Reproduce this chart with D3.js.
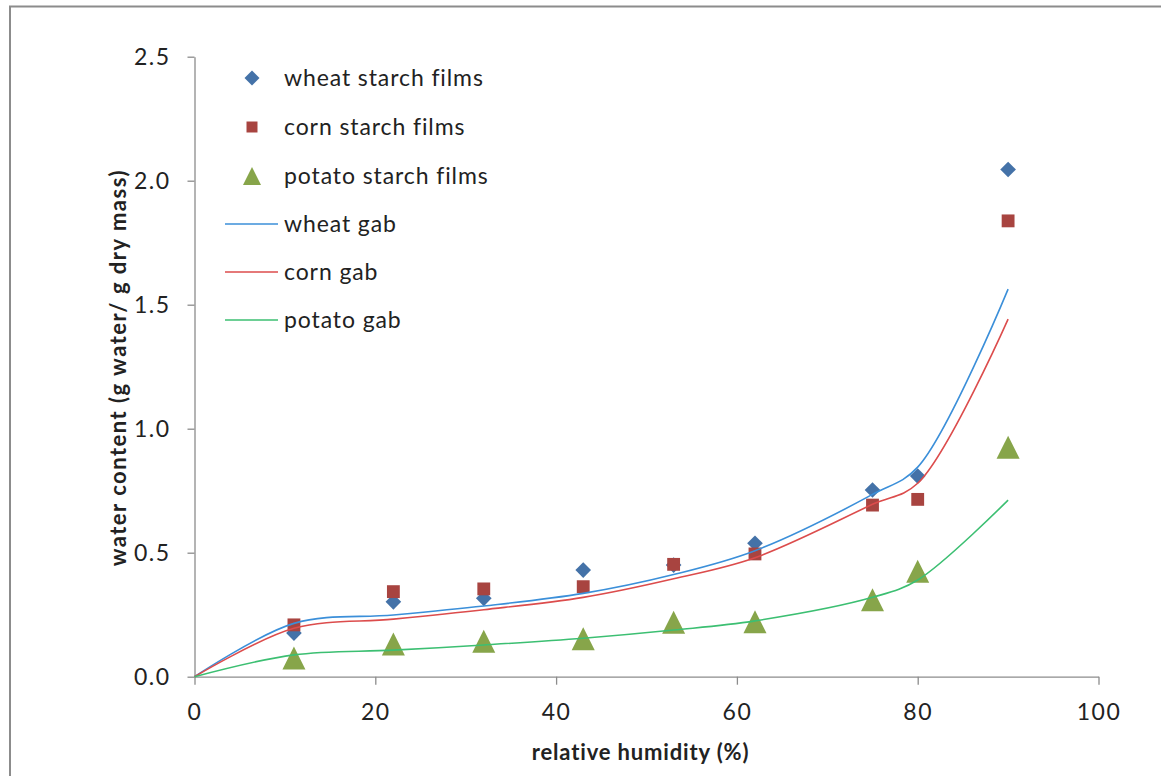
<!DOCTYPE html>
<html>
<head>
<meta charset="utf-8">
<script src="https://cdn.jsdelivr.net/npm/d3@7"></script>
<style>
  body { margin: 0; background: #fff; }
  svg text { font-family: Lato, "Open Sans", sans-serif; fill: #222; }
</style>
</head>
<body>
<div id="chart"></div>
<script>
// measured points (relative humidity %)
var rh = [11, 22, 32, 43, 53, 62, 75, 80, 90];
var wheatFilms = [0.176, 0.302, 0.316, 0.43, 0.45, 0.538, 0.753, 0.809, 2.045];
var cornFilms = [0.209, 0.343, 0.354, 0.363, 0.453, 0.495, 0.692, 0.715, 1.838];
var potatoFilms = [0.075, 0.132, 0.143, 0.153, 0.22, 0.222, 0.31, 0.425, 0.925];

// GAB model curves
var gabRh = [0, 11, 22, 32, 43, 53, 62, 75, 80, 90];
var wheatGab = [0, 0.215, 0.249, 0.285, 0.336, 0.412, 0.508, 0.735, 0.845, 1.563];
var cornGab = [0, 0.195, 0.232, 0.27, 0.32, 0.395, 0.48, 0.695, 0.78, 1.442];
var potatoGab = [0, 0.088, 0.107, 0.128, 0.155, 0.188, 0.225, 0.32, 0.39, 0.712];

var xTicks = [0, 20, 40, 60, 80, 100];
var yTicks = [0, 0.5, 1.0, 1.5, 2.0, 2.5];

var width = 1161, height = 776;
var plot = {left: 194.5, right: 1098.5, top: 56.7, bottom: 676.7};

var svg = d3.select("#chart").append("svg")
	.attr("width", width)
	.attr("height", height);

// outer frame
svg.append("rect")
	.attr("x", 10).attr("y", 6.5)
	.attr("width", 1170).attr("height", 800)
	.attr("fill", "none")
	.attr("stroke", "#8c8c8c")
	.attr("stroke-width", 2);

var x = d3.scaleLinear().domain([0, 100]).range([plot.left, plot.right]);
var y = d3.scaleLinear().domain([0, 2.5]).range([plot.bottom, plot.top]);

var xAxis = svg.append("g")
	.attr("transform", "translate(0," + plot.bottom + ")")
	.call(d3.axisBottom(x).tickValues(xTicks).tickSize(8).tickPadding(19).tickSizeOuter(0));
var yAxis = svg.append("g")
	.attr("transform", "translate(" + plot.left + ",0)")
	.call(d3.axisLeft(y).tickValues(yTicks).tickSize(7).tickPadding(17).tickFormat(d3.format(".1f")).tickSizeOuter(0));

[xAxis, yAxis].forEach(a => {
	a.selectAll("path, line").attr("stroke", "#8c8c8c").attr("stroke-width", 1.3);
	a.selectAll("text")
		.style("font-size", "23px")
		.style("letter-spacing", "1.5px")
		.attr("fill", "#222");
});

svg.append("text")
	.attr("x", (plot.left + plot.right) / 2 - 6)
	.attr("y", 760)
	.attr("text-anchor", "middle")
	.style("font-size", "22px")
	.style("font-weight", "bold")
	.style("letter-spacing", "0.85px")
	.text("relative humidity (%)");

svg.append("text")
	.attr("transform", "translate(126," + ((plot.top + plot.bottom) / 2 + 1) + ") rotate(-90)")
	.attr("text-anchor", "middle")
	.style("font-size", "22px")
	.style("font-weight", "bold")
	.style("letter-spacing", "1.5px")
	.text("water content (g water/ g dry mass)");

// custom markers like the spreadsheet ones
var diamond = {draw: function(ctx, size) {
	var r = Math.sqrt(size) / 2;
	ctx.moveTo(0, -r); ctx.lineTo(r, 0); ctx.lineTo(0, r); ctx.lineTo(-r, 0); ctx.closePath();
}};
var square = {draw: function(ctx, size) {
	var r = Math.sqrt(size) / 2;
	ctx.rect(-r, -r, 2 * r, 2 * r);
}};
var triangle = {draw: function(ctx, size) {
	var r = Math.sqrt(size) / 2;
	ctx.moveTo(0, -r); ctx.lineTo(r, r); ctx.lineTo(-r, r); ctx.closePath();
}};

var lineGen = d3.line()
	.x(d => x(d[0]))
	.y(d => y(d[1]))
	.curve(d3.curveCatmullRom.alpha(0.5));

var curves = [
	{name: "wheat gab", values: wheatGab, color: "#3b8fd9"},
	{name: "corn gab", values: cornGab, color: "#dc4c4c"},
	{name: "potato gab", values: potatoGab, color: "#3cbf72"}
];

var series = [
	{name: "wheat starch films", values: wheatFilms, color: "#4472a8", type: diamond, size: 245, legendSize: 225},
	{name: "corn starch films", values: cornFilms, color: "#a84440", type: square, size: 165, legendSize: 121},
	{name: "potato starch films", values: potatoFilms, color: "#87a54a", type: triangle, size: 530, legendSize: 324}
];

// draw points first, lines on top like the reference
series.forEach(s => {
	svg.append("g").selectAll("path")
		.data(rh.map((r, i) => [r, s.values[i]]))
		.enter().append("path")
		.attr("transform", d => "translate(" + x(d[0]) + "," + y(d[1]) + ")")
		.attr("d", d3.symbol().type(s.type).size(s.size))
		.attr("fill", s.color);
});

curves.forEach(c => {
	svg.append("path")
		.datum(gabRh.map((r, i) => [r, c.values[i]]))
		.attr("d", lineGen)
		.attr("fill", "none")
		.attr("stroke", c.color)
		.attr("stroke-width", 1.6);
});

// legend
var legendY = [78, 127, 176, 224, 272, 320];
var legend = svg.append("g");
series.forEach((s, i) => {
	legend.append("path")
		.attr("transform", "translate(252," + legendY[i] + ")")
		.attr("d", d3.symbol().type(s.type).size(s.legendSize))
		.attr("fill", s.color);
	legend.append("text")
		.attr("x", 284).attr("y", legendY[i])
		.attr("dy", "0.35em")
		.style("font-size", "23px")
		.style("letter-spacing", "0.9px")
		.text(s.name);
});
curves.forEach((c, i) => {
	var ly = legendY[i + 3];
	legend.append("line")
		.attr("x1", 225).attr("x2", 278)
		.attr("y1", ly).attr("y2", ly)
		.attr("stroke", c.color)
		.attr("stroke-width", 1.6);
	legend.append("text")
		.attr("x", 284).attr("y", ly)
		.attr("dy", "0.35em")
		.style("font-size", "23px")
		.style("letter-spacing", "0.9px")
		.text(c.name);
});
</script>
</body>
</html>
